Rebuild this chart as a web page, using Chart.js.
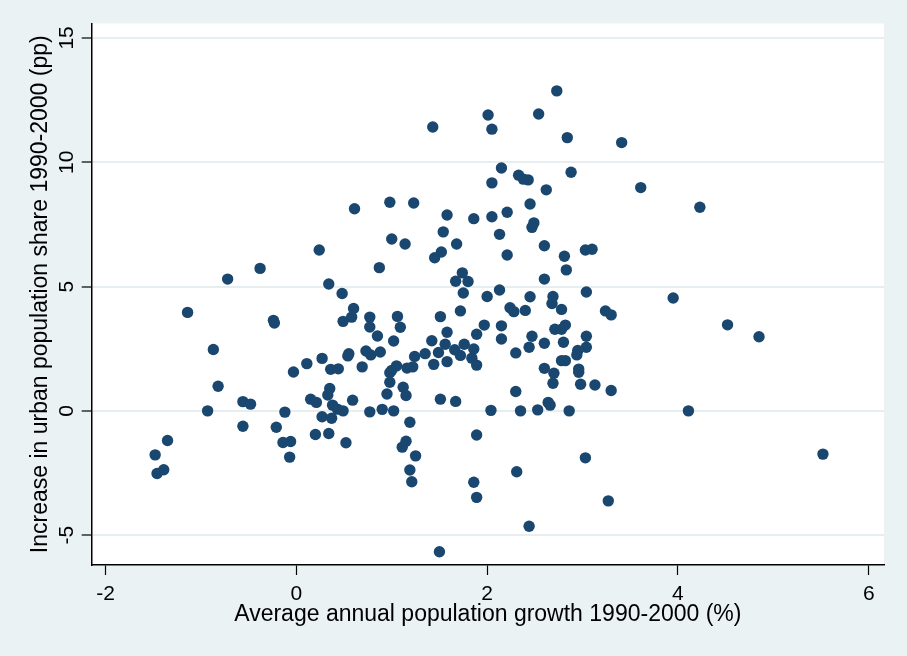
<!DOCTYPE html>
<html>
<head>
<meta charset="utf-8">
<script src="https://cdn.jsdelivr.net/npm/chart.js@4/dist/chart.umd.min.js"></script>
<style>
  html, body { margin: 0; padding: 0; background: #eaf2f3; }
  #wrap { width: 907px; height: 656px; }
</style>
</head>
<body>
<div id="wrap"><canvas id="chart" width="907" height="656"></canvas></div>
<script>
/* ======================
   DATA
====================== */
// average annual population growth 1990-2000 (%)
const growth = [
  -0.72, -0.38, 1.43, 2.01, 2.05, 2.05, 0.61, 0.98, 1.23, 1.58,
  1.86, 2.05, 1.54, 1.00, 1.14, 0.24, 1.68, 1.52, 1.45, 0.87,
  1.74, 1.67, 1.80, 0.34, 0.48, 1.75, 2.00, 2.73, 2.54, 2.84,
  3.41, 2.15, 2.88, 2.33, 2.38, 2.43, 2.62, 3.61, 2.45, 2.21,
  2.49, 2.47, 2.13, 2.60, 3.03, 3.10, 2.21, 2.81, 2.83, 2.60,
  2.13, 2.45, 2.69, 3.04, 3.95, 4.23, 4.52, 4.85, 4.11, 5.52,
  -1.14, -0.24, -0.23, -0.87, -0.03, -0.82, -0.56, -0.48, -0.12, -0.93,
  -0.56, -0.21, -1.35, -0.14, -0.06, -1.48, -1.39, -1.46, -0.07, 0.60,
  0.58, 0.49, 0.77, 0.77, 1.06, 1.09, 0.85, 1.51, 1.72, 1.58,
  1.42, 1.89, 1.97, 1.02, 1.56, 1.76, 1.49, 1.66, 1.72, 1.86,
  1.84, 1.89, 1.58, 1.44, 1.35, 1.24, 1.22, 1.16, 1.05, 1.00,
  0.98, 0.98, 0.95, 1.12, 1.15, 0.88, 0.78, 0.73, 0.55, 0.54,
  0.69, 0.44, 0.36, 0.27, 0.11, 0.35, 0.33, 0.15, 0.21, 0.59,
  0.38, 0.43, 0.49, 0.27, 0.37, 0.77, 0.90, 1.02, 1.51, 1.67,
  2.04, 1.19, 0.20, 0.34, 0.52, 1.15, 1.11, 1.25, 1.19, 1.21,
  1.89, 1.86, 1.89, 1.50, 2.24, 2.28, 2.40, 2.68, 2.78, 3.24,
  3.30, 2.15, 2.15, 2.47, 2.44, 2.60, 2.71, 2.78, 2.82, 2.80,
  3.04, 3.04, 2.95, 2.94, 2.30, 2.78, 2.82, 2.60, 2.70, 2.69,
  2.96, 2.96, 2.98, 3.13, 3.30, 2.30, 2.35, 2.53, 2.64, 2.66,
  2.86, 3.03, 2.31, 3.27, 2.44
]

// increase in urban population share 1990-2000 (pp)
const urbanShare = [
  5.30, 5.73, 11.42, 11.90, 11.33, 9.17, 8.13, 8.39, 8.36, 7.88,
  7.73, 7.81, 7.20, 6.91, 6.71, 6.47, 6.71, 6.39, 6.16, 5.76,
  5.55, 5.21, 5.20, 5.10, 4.72, 4.74, 4.60, 12.87, 11.94, 10.99,
  10.79, 9.77, 9.60, 9.48, 9.32, 9.29, 8.89, 8.98, 8.32, 7.99,
  7.56, 7.38, 7.10, 6.64, 6.47, 6.50, 6.27, 6.22, 5.67, 5.30,
  4.86, 4.59, 4.60, 4.78, 4.54, 8.19, 3.46, 2.98, 0.00, -1.74,
  3.96, 3.64, 3.53, 2.47, 1.56, 0.99, 0.37, 0.27, -0.05, 0.00,
  -0.62, -0.66, -1.19, -1.27, -1.23, -1.77, -2.37, -2.52, -1.86, 4.12,
  3.77, 3.60, 3.77, 3.37, 3.80, 3.36, 3.01, 3.79, 4.02, 3.16,
  2.82, 3.08, 3.45, 2.81, 2.68, 2.68, 2.35, 2.46, 2.23, 2.49,
  2.12, 1.84, 1.98, 1.87, 2.30, 2.19, 1.77, 1.72, 1.81, 1.63,
  1.53, 1.15, 0.68, 0.95, 0.62, 2.37, 2.25, 2.41, 2.30, 2.21,
  1.77, 1.69, 1.67, 2.11, 1.90, 0.90, 0.64, 0.47, 0.34, 0.43,
  0.23, 0.07, 0.00, -0.24, -0.30, -0.04, 0.06, 0.00, 0.47, 0.38,
  0.02, -0.46, -0.95, -0.91, -1.28, -1.22, -1.46, -1.81, -2.38, -2.85,
  -0.97, -2.87, -3.48, -5.67, 4.15, 3.99, 4.04, 4.32, 4.08, 4.02,
  3.86, 3.42, 2.89, 3.00, 2.56, 2.72, 3.28, 3.28, 3.45, 2.76,
  3.00, 2.56, 2.43, 2.25, 2.33, 2.02, 2.02, 1.71, 1.51, 1.11,
  1.68, 1.55, 1.07, 1.04, 0.82, 0.78, 0.00, 0.04, 0.34, 0.23,
  0.00, -1.89, -2.45, -3.62, -4.64
]

const xTicks = [-2, 0, 2, 4, 6]
const yTicks = [-5, 0, 5, 10, 15]

const xTitle = "Average annual population growth 1990-2000 (%)"
const yTitle = "Increase in urban population share 1990-2000 (pp)"

/* ======================
   STYLE
====================== */
const FONT = "'Liberation Sans', Arial, sans-serif"
const OUTER_BG = "#eaf2f3"
const GRID = "#e6eef1"
const MARKER = "#1a476f"

// paint the graph region and the white plot region
const backgroundPlugin = {
  id: "bg",
  beforeDraw(chart) {
    const { ctx, chartArea: a } = chart
    ctx.save()
    ctx.fillStyle = OUTER_BG
    ctx.fillRect(0, 0, chart.width, chart.height)
    ctx.fillStyle = "#ffffff"
    ctx.fillRect(a.left, a.top, a.right - a.left, a.bottom - a.top)
    ctx.restore()
  }
}

/* ======================
   CHART
====================== */
new Chart(document.getElementById("chart"), {
  type: "scatter",
  data: {
    datasets: [{
      data: growth.map((x, i) => ({ x, y: urbanShare[i] })),
      backgroundColor: MARKER,
      borderWidth: 0,
      pointRadius: 5.7,
      pointHoverRadius: 5.7
    }]
  },
  options: {
    responsive: false,
    animation: false,
    devicePixelRatio: 1,
    layout: { padding: { top: 23.5, right: 23, bottom: 0, left: 0 } },
    plugins: { legend: { display: false }, tooltip: { enabled: false } },
    scales: {
      x: {
        type: "linear",
        min: -2.145,
        max: 6.16,
        afterBuildTicks: s => { s.ticks = xTicks.map(v => ({ value: v })) },
        afterFit: s => { s.height = 91 },
        grid: { drawOnChartArea: false, drawTicks: true, tickLength: 10, tickColor: "#000", tickWidth: 1.2 },
        border: { color: "#000", width: 1.5 },
        ticks: { font: { family: FONT, size: 21 }, color: "#000", padding: 6.6, maxRotation: 0, autoSkip: false },
        title: { display: true, text: xTitle, color: "#000", font: { family: FONT, size: 23 }, padding: { top: 0, bottom: 27.5 } }
      },
      y: {
        type: "linear",
        min: -6.2,
        max: 15.58,
        afterBuildTicks: s => { s.ticks = yTicks.map(v => ({ value: v })) },
        afterFit: s => { s.width = 91.7 },
        grid: { color: GRID, lineWidth: 2, drawTicks: true, tickLength: 10, tickColor: "#000", tickWidth: 1.2 },
        border: { color: "#000", width: 1.5 },
        ticks: { font: { family: FONT, size: 21 }, color: "#000", padding: 3, minRotation: 90, maxRotation: 90, crossAlign: "center", autoSkip: false },
        title: { display: true, text: yTitle, color: "#000", font: { family: FONT, size: 23 }, padding: { top: 27.2, bottom: 0 } }
      }
    }
  },
  plugins: [backgroundPlugin]
})
</script>
</body>
</html>
